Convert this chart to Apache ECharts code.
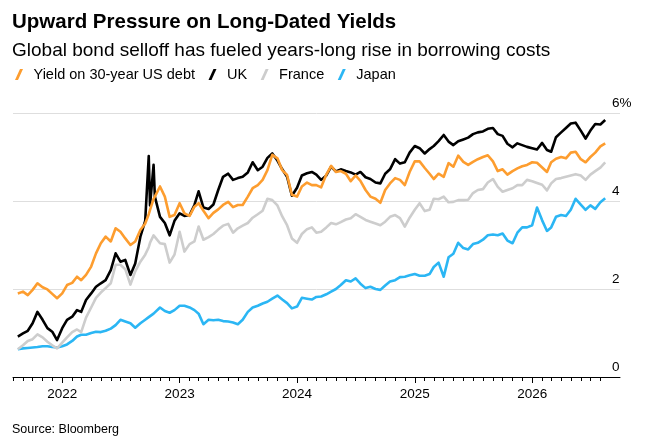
<!DOCTYPE html>
<html>
<head>
<meta charset="UTF-8">
<title>Upward Pressure on Long-Dated Yields</title>
<script src="https://cdn.jsdelivr.net/npm/echarts@6/dist/echarts.min.js"></script>
<style>
  html, body { margin: 0; padding: 0; background: #fff; }
  #view { width: 646px; height: 446px; }
</style>
</head>
<body>
<div id="view"></div>
<script>
// sample dates (1st and 16th of each month, plus two extra days for the UK spike)
var dates = [
  '2021-08-16','2021-09-01','2021-09-16','2021-10-01','2021-10-16','2021-11-01','2021-11-16','2021-12-01','2021-12-16',
  '2022-01-01','2022-01-16','2022-02-01','2022-02-16','2022-03-01','2022-03-16','2022-04-01','2022-04-16','2022-05-01','2022-05-16',
  '2022-06-01','2022-06-16','2022-07-01','2022-07-16','2022-08-01','2022-08-16','2022-09-01','2022-09-16','2022-09-27','2022-10-01',
  '2022-10-12','2022-10-16','2022-11-01','2022-11-16','2022-12-01','2022-12-16',
  '2023-01-01','2023-01-16','2023-02-01','2023-02-16','2023-03-01','2023-03-16','2023-04-01','2023-04-16','2023-05-01','2023-05-16',
  '2023-06-01','2023-06-16','2023-07-01','2023-07-16','2023-08-01','2023-08-16','2023-09-01','2023-09-16','2023-10-01','2023-10-16',
  '2023-11-01','2023-11-16','2023-12-01','2023-12-16',
  '2024-01-01','2024-01-16','2024-02-01','2024-02-16','2024-03-01','2024-03-16','2024-04-01','2024-04-16','2024-05-01','2024-05-16',
  '2024-06-01','2024-06-16','2024-07-01','2024-07-16','2024-08-01','2024-08-16','2024-09-01','2024-09-16','2024-10-01','2024-10-16',
  '2024-11-01','2024-11-16','2024-12-01','2024-12-16',
  '2025-01-01','2025-01-16','2025-02-01','2025-02-16','2025-03-01','2025-03-16','2025-04-01','2025-04-16','2025-05-01','2025-05-16',
  '2025-06-01','2025-06-16','2025-07-01','2025-07-16','2025-08-01','2025-08-16','2025-09-01','2025-09-16','2025-10-01','2025-10-16',
  '2025-11-01','2025-11-16','2025-12-01','2025-12-16',
  '2026-01-01','2026-01-16','2026-02-01','2026-02-16','2026-03-01','2026-03-16','2026-04-01','2026-04-16','2026-05-01','2026-05-16',
  '2026-06-01','2026-06-16','2026-07-01','2026-07-16','2026-08-01','2026-08-16'
];

var us = [
  1.90,1.94,1.86,1.98,2.13,2.04,1.99,1.89,1.79,
  1.90,2.09,2.14,2.28,2.20,2.32,2.51,2.81,3.04,3.19,3.08,3.38,3.30,3.15,3.00,3.08,3.34,3.49,3.70,3.80,4.05,4.10,4.33,4.10,3.64,3.68,
  3.95,3.72,3.66,3.87,3.95,3.78,3.61,3.73,3.81,3.91,3.98,3.86,3.91,3.91,4.10,4.29,4.36,4.48,4.70,5.05,4.97,4.70,4.59,4.14,
  4.10,4.33,4.42,4.36,4.36,4.31,4.60,4.80,4.66,4.68,4.62,4.45,4.58,4.46,4.25,4.10,4.05,3.96,4.25,4.40,4.52,4.48,4.36,4.66,
  4.90,4.90,4.75,4.62,4.50,4.62,4.55,4.86,4.78,5.03,4.89,4.82,4.89,4.95,5.00,5.04,4.90,4.68,4.72,4.60,4.68,4.74,4.79,4.82,
  4.88,4.87,4.76,4.66,4.88,4.96,5.00,4.97,5.10,5.12,4.95,4.88,5.00,5.10,5.24,5.31
];
var uk = [
  0.92,0.99,1.05,1.22,1.48,1.30,1.11,1.03,0.84,
  1.11,1.30,1.37,1.52,1.48,1.75,1.90,2.05,2.13,2.20,2.43,2.81,2.62,2.66,2.32,2.58,3.19,3.55,5.02,3.90,4.82,4.10,3.64,3.50,3.22,3.55,
  3.72,3.66,3.68,3.91,4.22,3.85,3.82,3.92,4.25,4.55,4.62,4.48,4.52,4.55,4.65,4.88,4.70,4.78,4.98,5.08,4.92,4.72,4.55,4.12,
  4.30,4.58,4.63,4.66,4.60,4.48,4.58,4.78,4.67,4.72,4.68,4.65,4.60,4.66,4.54,4.50,4.42,4.40,4.62,4.72,4.95,4.85,4.88,5.10,
  5.25,5.20,5.08,5.18,5.25,5.36,5.50,5.35,5.27,5.36,5.40,5.44,5.52,5.56,5.58,5.64,5.66,5.52,5.48,5.30,5.22,5.31,5.27,5.23,
  5.20,5.17,5.32,5.16,5.12,5.45,5.56,5.66,5.76,5.78,5.60,5.42,5.60,5.75,5.74,5.84
];
var france = [
  0.63,0.72,0.82,0.86,0.97,0.90,0.80,0.72,0.65,
  0.78,0.90,1.02,1.08,1.02,1.35,1.58,1.80,1.92,2.02,2.13,2.55,2.55,2.45,2.10,2.40,2.62,2.78,2.95,3.05,3.22,3.20,3.04,3.02,2.60,2.78,
  3.30,2.85,3.02,3.08,3.42,3.12,3.18,3.25,3.35,3.44,3.48,3.28,3.38,3.44,3.50,3.62,3.70,3.78,4.05,4.02,3.90,3.65,3.45,3.15,
  3.05,3.25,3.36,3.40,3.28,3.30,3.40,3.50,3.47,3.52,3.58,3.61,3.70,3.64,3.57,3.53,3.49,3.45,3.53,3.64,3.68,3.61,3.42,3.62,
  3.80,3.95,3.77,3.80,4.05,4.04,4.10,3.97,3.98,4.02,4.02,4.03,4.18,4.25,4.27,4.42,4.50,4.32,4.21,4.25,4.29,4.36,4.36,4.48,
  4.45,4.41,4.37,4.24,4.40,4.50,4.52,4.55,4.58,4.61,4.58,4.48,4.60,4.68,4.76,4.88
];
var japan = [
  0.63,0.65,0.66,0.67,0.68,0.70,0.70,0.68,0.67,
  0.70,0.74,0.82,0.92,0.96,0.96,1.00,1.03,1.02,1.05,1.10,1.18,1.30,1.26,1.22,1.12,1.22,1.30,1.36,1.38,1.44,1.46,1.58,1.50,1.46,1.52,
  1.62,1.62,1.58,1.52,1.44,1.20,1.30,1.29,1.30,1.27,1.26,1.24,1.20,1.30,1.48,1.58,1.62,1.67,1.71,1.78,1.85,1.76,1.68,1.56,
  1.60,1.80,1.78,1.76,1.82,1.83,1.88,1.94,2.00,2.09,2.20,2.17,2.24,2.12,2.02,2.05,2.00,1.98,2.08,2.17,2.20,2.27,2.28,2.31,
  2.34,2.30,2.30,2.34,2.50,2.60,2.28,2.72,2.80,3.05,2.93,2.90,3.02,3.05,3.12,3.22,3.24,3.22,3.26,3.10,3.04,3.28,3.40,3.40,
  3.45,3.85,3.56,3.32,3.40,3.64,3.68,3.66,3.80,4.05,3.92,3.80,3.90,3.82,3.97,4.06
];

var seriesNames = ['Yield on 30-year US debt', 'UK', 'France', 'Japan'];
var seriesColors = ['#fd9d2f', '#000000', '#cdcdcd', '#2bb6f4'];

var yearTicks = ['2022-01-01', '2023-01-01', '2024-01-01', '2025-01-01', '2026-01-01'];
var yearLabels = ['2022', '2023', '2024', '2025', '2026'];
var yTickLabels = {0: '0', 2: '2', 4: '4', 6: '6%'};

var FONT = '"Liberation Sans", Arial, Helvetica, sans-serif';

function toTime(s) {
    var p = s.split('-');
    return Date.UTC(+p[0], +p[1] - 1, +p[2]);
}

// monthly minor ticks Aug 2021 .. Aug 2026
var monthTicks = [];
for (var y = 2021; y <= 2026; y++) {
    for (var mo = 0; mo < 12; mo++) {
        if (y === 2021 && mo < 7) continue;
        if (y === 2026 && mo > 7) continue;
        monthTicks.push(Date.UTC(y, mo, 1));
    }
}
var yearTickTimes = yearTicks.map(toTime);

function pairs(values) {
    return dates.map(function (d, i) { return [toTime(d), values[i]]; });
}

var xMin = toTime('2021-08-01');
var xMax = toTime('2026-10-01');

var myChart = echarts.init(document.getElementById('view'), null, {renderer: 'canvas'});

var option = {
    animation: false,
    backgroundColor: '#fff',
    textStyle: {fontFamily: FONT},
    title: [
        {
            text: 'Upward Pressure on Long-Dated Yields',
            left: 12, top: 12, padding: 0,
            textStyle: {fontFamily: FONT, fontSize: 20.5, fontWeight: 'bold', color: '#000'}
        },
        {
            text: 'Global bond selloff has fueled years-long rise in borrowing costs',
            left: 12, top: 41.5, padding: 0,
            textStyle: {fontFamily: FONT, fontSize: 19, fontWeight: 'normal', color: '#000'}
        },
        {
            text: 'Source: Bloomberg',
            left: 12, top: 423, padding: 0,
            textStyle: {fontFamily: FONT, fontSize: 12.5, fontWeight: 'normal', color: '#000'}
        }
    ],
    legend: {
        left: 15, top: 67, padding: 0,
        icon: 'path://M0,11 L3,11 L8,0 L5,0 Z',
        itemWidth: 19, itemHeight: 11, itemGap: 13.5,
        itemStyle: {borderWidth: 0},
        textStyle: {fontFamily: FONT, fontSize: 14.5, color: '#000'},
        data: seriesNames.slice()
    },
    grid: {left: 13, right: 26, top: 113, bottom: 69, containLabel: false},
    xAxis: [
        {
            type: 'value', min: xMin, max: xMax, scale: true,
            axisLine: {show: true, lineStyle: {color: '#000', width: 1}},
            axisTick: {show: true, customValues: monthTicks, length: 4, lineStyle: {color: '#000', width: 1}},
            axisLabel: {show: false},
            splitLine: {show: false}
        },
        {
            type: 'value', min: xMin, max: xMax, scale: true, position: 'bottom',
            axisLine: {show: false},
            axisTick: {show: true, customValues: yearTickTimes, length: 6, lineStyle: {color: '#000', width: 1}},
            axisLabel: {
                show: true, customValues: yearTickTimes, margin: 10,
                fontFamily: FONT, fontSize: 13.5, color: '#000',
                formatter: function (v) {
                    var best = 0;
                    for (var i = 1; i < yearTickTimes.length; i++) {
                        if (Math.abs(yearTickTimes[i] - v) < Math.abs(yearTickTimes[best] - v)) best = i;
                    }
                    return yearLabels[best];
                }
            },
            splitLine: {show: false}
        }
    ],
    yAxis: {
        type: 'value', min: 0, max: 6, interval: 2, position: 'right',
        axisLine: {show: false},
        axisTick: {show: false},
        splitLine: {show: true, lineStyle: {color: '#dedede', width: 1}},
        axisLabel: {
            margin: -8, align: 'left', verticalAlign: 'bottom', padding: [0, 0, 3, 0],
            fontFamily: FONT, fontSize: 13.5, color: '#000',
            formatter: function (v) { return yTickLabels[v]; }
        }
    },
    series: [
        // drawn bottom to top: Japan, France, UK, US
        {name: seriesNames[3], type: 'line', data: pairs(japan), color: seriesColors[3]},
        {name: seriesNames[2], type: 'line', data: pairs(france), color: seriesColors[2]},
        {name: seriesNames[1], type: 'line', data: pairs(uk), color: seriesColors[1]},
        {name: seriesNames[0], type: 'line', data: pairs(us), color: seriesColors[0]}
    ].map(function (s) {
        s.symbol = 'none';
        s.showSymbol = false;
        s.xAxisIndex = 0;
        s.lineStyle = {width: 2.6, color: s.color, join: 'round'};
        s.itemStyle = {color: s.color};
        s.emphasis = {disabled: true};
        return s;
    })
};

myChart.setOption(option);
</script>
</body>
</html>
